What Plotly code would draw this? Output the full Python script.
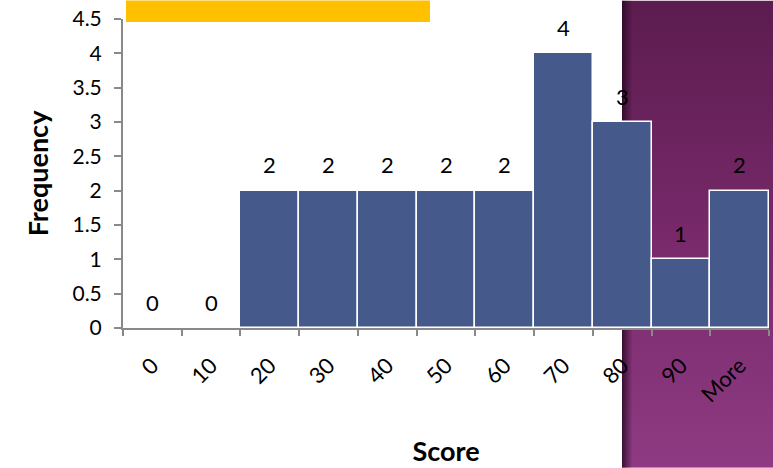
import base64
import plotly.graph_objects as go

categories = ["0", "10", "20", "30", "40", "50", "60", "70", "80", "90", "More"]
frequency = [0, 0, 2, 2, 2, 2, 2, 4, 3, 1, 2]
y_ticks = [0, 0.5, 1, 1.5, 2, 2.5, 3, 3.5, 4, 4.5]

W, H = 773, 468
L, R, T, B = 123, 4, 18.5, 140
PW, PH = W - L - R, H - T - B
AXIS_GREY = "#898989"

def px_x(p):
    return (p - L) / PW

def px_y(p):
    return (H - B - p) / PH

svg = f'''<svg xmlns="http://www.w3.org/2000/svg" width="151" height="468" viewBox="0 0 151 468" preserveAspectRatio="none">
<defs>
<linearGradient id="v" x1="0" y1="0" x2="0" y2="1">
<stop offset="0" stop-color="#5c1c4f"/>
<stop offset="0.5" stop-color="#77296a"/>
<stop offset="1" stop-color="#8f3b83"/>
</linearGradient>
<linearGradient id="h" x1="0" y1="0" x2="1" y2="0">
<stop offset="0" stop-color="#2a0824" stop-opacity="0.85"/>
<stop offset="0.07" stop-color="#2a0824" stop-opacity="0"/>
</linearGradient>
</defs>
<rect width="151" height="468" fill="url(#v)"/>
<rect width="151" height="468" fill="url(#h)"/>
</svg>'''
src = "data:image/svg+xml;base64," + base64.b64encode(svg.encode()).decode()

FONT = "Lato, 'Open Sans', sans-serif"

fig = go.Figure()
fig.add_trace(go.Bar(
    x=categories, y=frequency,
    marker=dict(color="#46598b", line=dict(color="white", width=1.5)),
    hoverinfo="x+y",
))

for i, v in enumerate(frequency):
    fig.add_annotation(x=i, y=v, text=str(v), showarrow=False, yshift=26,
                       font=dict(family=FONT, size=22, color="black"))

fig.add_layout_image(dict(
    source=src, xref="paper", yref="paper",
    x=px_x(622), y=px_y(0), sizex=(W - 622) / PW, sizey=H / PH,
    xanchor="left", yanchor="top", sizing="stretch", layer="below",
))

fig.add_shape(type="rect", xref="paper", yref="paper",
              x0=px_x(126), x1=px_x(430), y0=px_y(21.5), y1=px_y(0),
              fillcolor="#ffc000", line=dict(width=0), layer="above")

fig.update_layout(
    width=W, height=H,
    margin=dict(l=L, r=R, t=T, b=B, autoexpand=False),
    paper_bgcolor="white", plot_bgcolor="rgba(0,0,0,0)",
    bargap=0, showlegend=False,
    font=dict(family=FONT, size=20, color="black"),
    xaxis=dict(
        type="category", range=[-0.5, len(categories) - 0.5],
        showline=True, linecolor=AXIS_GREY, linewidth=2,
        ticks="outside", tickson="boundaries", ticklen=6, tickwidth=2, tickcolor=AXIS_GREY,
        tickangle=-45, tickfont=dict(size=22), ticklabelstandoff=14,
        showgrid=False, zeroline=False,
        title=dict(text="<b>Score</b>", font=dict(size=27), standoff=36),
        automargin=False,
    ),
    yaxis=dict(
        range=[0, 4.5], tickvals=y_ticks, ticktext=[f"{t:g}" for t in y_ticks],
        showline=True, linecolor=AXIS_GREY, linewidth=2,
        ticks="outside", ticklen=7, tickwidth=2, tickcolor=AXIS_GREY,
        tickfont=dict(size=21), ticklabelstandoff=8,
        showgrid=False, zeroline=False,
        title=dict(text="<b>Frequency</b>", font=dict(size=27), standoff=16),
        automargin=False,
    ),
)

fig.write_html("out.html")
